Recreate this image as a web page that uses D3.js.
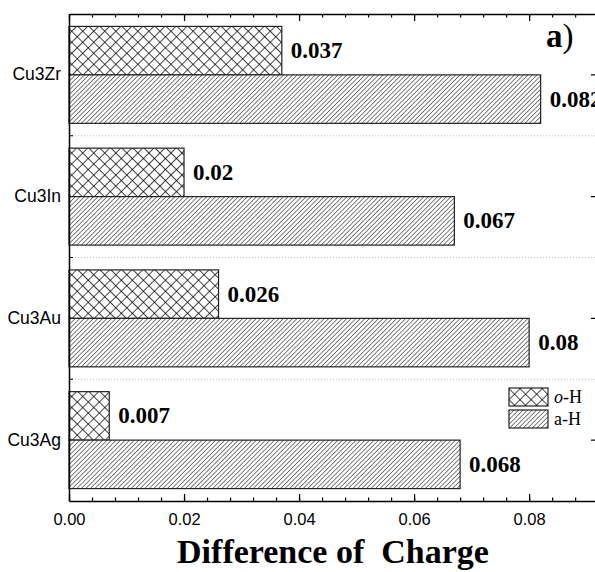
<!DOCTYPE html>
<html>
<head>
<meta charset="utf-8">
<script src="https://cdn.jsdelivr.net/npm/d3@7"></script>
<style>
  body { margin: 0; background: #fff; }
  svg { display: block; }
</style>
</head>
<body>
<svg id="chart"></svg>
<script>
// data
const categories = ['Cu3Zr', 'Cu3In', 'Cu3Au', 'Cu3Ag'];
const seriesNames = ['o-H', 'a-H'];
const oH = [0.037, 0.02, 0.026, 0.007];
const aH = [0.082, 0.067, 0.08, 0.068];
const xTicks = [0, 0.02, 0.04, 0.06, 0.08];

const width = 595;
const height = 572;
const plotLeft = 69, plotRight = 597, plotTop = 14, plotBottom = 501;

const serif = '"Liberation Serif", "Times New Roman", serif';
const sans = '"Liberation Sans", Arial, sans-serif';

const svg = d3.select('#chart')
    .attr('width', width)
    .attr('height', height);

// hatch patterns
const defs = svg.append('defs');
const cross = defs.append('pattern')
    .attr('id', 'cross')
    .attr('patternUnits', 'userSpaceOnUse')
    .attr('width', 7.8).attr('height', 7.8)
    .attr('patternTransform', 'rotate(45)');
cross.append('rect').attr('width', 7.8).attr('height', 7.8).attr('fill', '#fff');
cross.append('path')
    .attr('d', 'M0,0 L0,7.8 M0,0 L7.8,0')
    .attr('stroke', '#000').attr('stroke-width', 1.4);

const diag = defs.append('pattern')
    .attr('id', 'diag')
    .attr('patternUnits', 'userSpaceOnUse')
    .attr('width', 3.2).attr('height', 3.2)
    .attr('patternTransform', 'rotate(45)');
diag.append('rect').attr('width', 3.2).attr('height', 3.2).attr('fill', '#fff');
diag.append('path')
    .attr('d', 'M0,0 L0,3.2')
    .attr('stroke', '#000').attr('stroke-width', 1.0);

const fills = { 'o-H': 'url(#cross)', 'a-H': 'url(#diag)' };

// scales
const x = d3.scaleLinear().domain([0, 0.0918]).range([plotLeft, plotRight]);
const y0 = d3.scaleBand().domain(categories).range([plotTop, plotBottom]).padding(0);
const y1 = d3.scaleBand().domain(seriesNames).range([0, y0.bandwidth()])
    .paddingInner(0).paddingOuter(0.256);

const rows = categories.map((c, i) => ({ cat: c, vals: { 'o-H': oH[i], 'a-H': aH[i] } }));

// dotted separators between categories
svg.append('g')
    .selectAll('line')
    .data(categories.slice(1))
    .enter()
    .append('line')
    .attr('x1', plotLeft).attr('x2', plotRight)
    .attr('y1', d => y0(d)).attr('y2', d => y0(d))
    .attr('stroke', '#bbb')
    .attr('stroke-width', 1)
    .attr('stroke-dasharray', '1,2');

// bars
const groups = svg.append('g')
    .selectAll('g')
    .data(rows)
    .enter()
    .append('g')
    .attr('transform', d => `translate(0,${y0(d.cat)})`);

groups.selectAll('rect')
    .data(d => seriesNames.map(s => ({ s: s, v: d.vals[s] })))
    .enter()
    .append('rect')
    .attr('x', x(0))
    .attr('y', d => y1(d.s))
    .attr('width', d => x(d.v) - x(0))
    .attr('height', y1.bandwidth())
    .attr('fill', d => fills[d.s])
    .attr('stroke', '#222')
    .attr('stroke-width', 1.2);

groups.selectAll('text')
    .data(d => seriesNames.map(s => ({ s: s, v: d.vals[s] })))
    .enter()
    .append('text')
    .attr('x', d => x(d.v) + 9)
    .attr('y', d => y1(d.s) + y1.bandwidth() / 2)
    .attr('dy', '0.33em')
    .style('font-family', serif)
    .style('font-weight', 'bold')
    .style('font-size', '23px')
    .text(d => String(d.v));

// axes: ticks point inward on every side
const fmt = d3.format('.2f');
const minor = d3.range(0, 0.0918, 0.004);

const bottomAxis = svg.append('g')
    .attr('transform', `translate(0,${plotBottom})`)
    .call(d3.axisBottom(x).tickValues(xTicks).tickFormat(fmt).tickSizeInner(-7).tickSizeOuter(0).tickPadding(12));
bottomAxis.selectAll('text')
    .style('font-family', sans).style('font-size', '16.5px').attr('fill', '#000');

svg.append('g')
    .attr('transform', `translate(0,${plotBottom})`)
    .call(d3.axisBottom(x).tickValues(minor).tickFormat('').tickSizeInner(-3.5).tickSizeOuter(0))
    .select('.domain').remove();

svg.append('g')
    .attr('transform', `translate(0,${plotTop})`)
    .call(d3.axisTop(x).tickValues(xTicks).tickFormat('').tickSizeInner(-7).tickSizeOuter(0));
svg.append('g')
    .attr('transform', `translate(0,${plotTop})`)
    .call(d3.axisTop(x).tickValues(minor).tickFormat('').tickSizeInner(-3.5).tickSizeOuter(0))
    .select('.domain').remove();

const leftAxis = svg.append('g')
    .attr('transform', `translate(${plotLeft},0)`)
    .call(d3.axisLeft(y0).tickSizeInner(0).tickSizeOuter(0).tickPadding(8));
leftAxis.selectAll('text')
    .style('font-family', sans).style('font-size', '17.5px').attr('fill', '#000');

// inward ticks on the band edges
svg.append('g')
    .selectAll('line')
    .data(categories.slice(1))
    .enter()
    .append('line')
    .attr('x1', plotLeft).attr('x2', plotLeft + 4)
    .attr('y1', d => y0(d)).attr('y2', d => y0(d))
    .attr('stroke', '#000');

svg.append('g')
    .attr('transform', `translate(${plotRight},0)`)
    .call(d3.axisRight(y0).tickFormat('').tickSizeInner(-6).tickSizeOuter(0));

svg.selectAll('.domain').attr('stroke', '#000').attr('stroke-width', 1.5);
svg.selectAll('.tick line').attr('stroke', '#000').attr('stroke-width', 1.2);

// legend
const legend = svg.append('g').attr('transform', 'translate(509,388)');
seriesNames.forEach((s, i) => {
    const row = legend.append('g').attr('transform', `translate(0,${i * 22})`);
    row.append('rect')
        .attr('width', 39).attr('height', 18)
        .attr('fill', fills[s])
        .attr('stroke', '#222').attr('stroke-width', 1.2);
    const t = row.append('text')
        .attr('x', 45).attr('y', 15)
        .style('font-family', serif).style('font-size', '18px');
    if (s === 'o-H') {
        t.append('tspan').style('font-style', 'italic').text('o');
        t.append('tspan').text('-H');
    } else {
        t.text(s);
    }
});

// panel tag
const tag = svg.append('text')
    .attr('x', 546).attr('y', 47)
    .style('font-family', serif).style('font-size', '33px');
tag.append('tspan').style('font-weight', 'bold').text('a');
tag.append('tspan').text(')');

// x axis title
svg.append('text')
    .attr('x', (plotLeft + plotRight) / 2)
    .attr('y', 563)
    .style('text-anchor', 'middle')
    .style('font-family', serif)
    .style('font-weight', 'bold')
    .style('font-size', '34px')
    .style('white-space', 'pre')
    .text('Difference of  Charge');
</script>
</body>
</html>
